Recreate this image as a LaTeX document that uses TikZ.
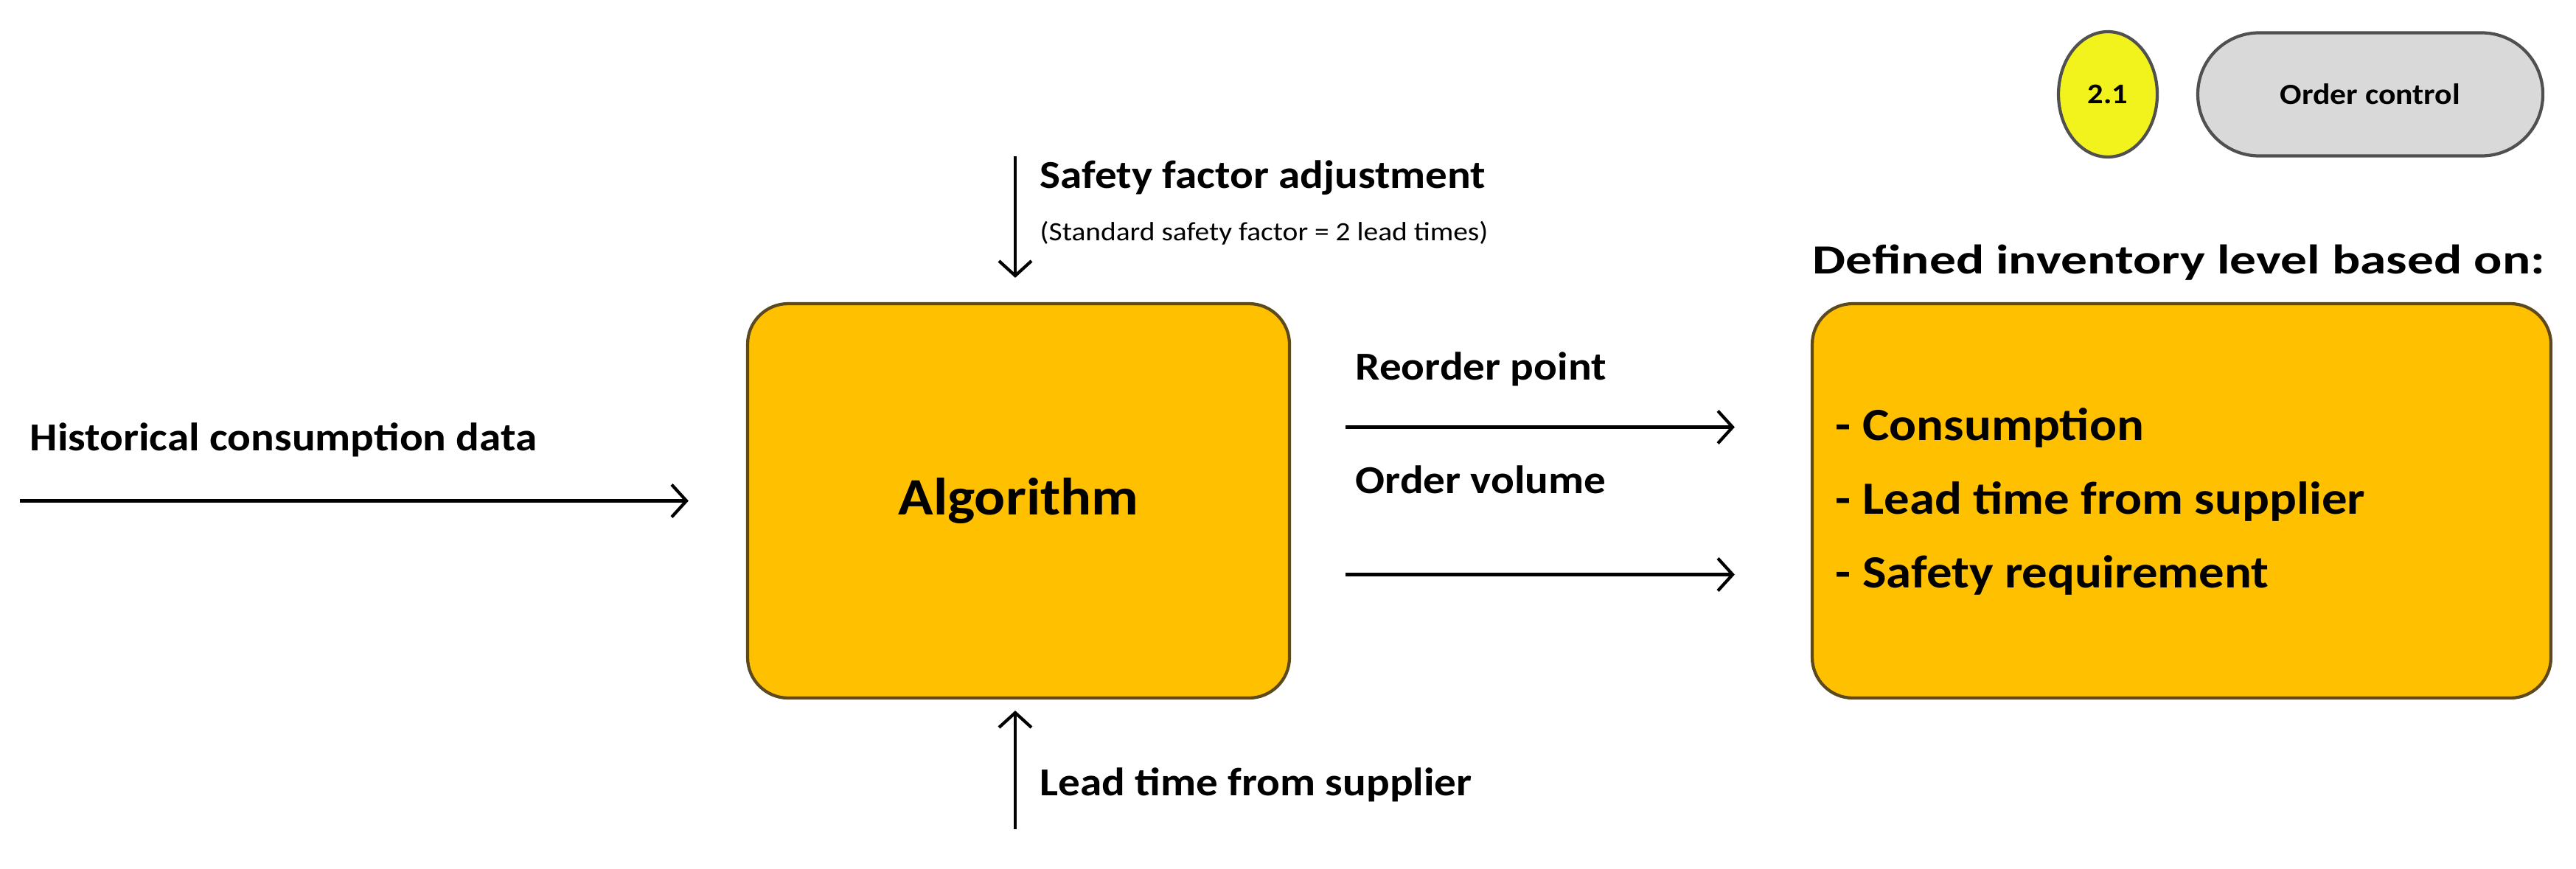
\documentclass[tikz,border=0pt]{standalone}
\usepackage{fontspec}
\setmainfont{Carlito}[FakeStretch=1.1]
\newfontfamily\widefont{Carlito}[FakeStretch=1.27]
\usetikzlibrary{positioning,arrows.meta,shapes.geometric}
\definecolor{boxorange}{HTML}{FFC000}
\definecolor{boxedge}{HTML}{5C4A1E}
\definecolor{tagyellow}{HTML}{F2F21C}
\definecolor{pillgray}{HTML}{D9D9D9}
\definecolor{pilledge}{HTML}{505050}
\tikzset{
process/.style={draw=boxedge, fill=boxorange, line width=1.2pt, rounded corners=0.55cm}, % the two orange boxes
flow/.style={-{Straight Barb[length=0.2cm,width=0.44cm]}, line width=1.2pt}, % the open arrows
lbl/.style={anchor=west, inner sep=0pt, font=\bfseries\fontsize{15.3}{18}\selectfont},
}
\begin{document}
\begin{tikzpicture}
\useasboundingbox (0,0) rectangle (34.94,-11.78);
% tag in the top right corner
\node[ellipse, draw=pilledge, fill=tagyellow, line width=1.2pt, minimum width=1.34cm, minimum height=1.7cm, font=\bfseries\fontsize{11}{13}\selectfont] (tag) at (28.59,-1.28) {2.1};
\node[draw=pilledge, fill=pillgray, line width=1.2pt, rounded corners=0.83cm, minimum width=4.68cm, minimum height=1.67cm, font=\bfseries\fontsize{11.3}{13}\selectfont] (title) at (32.15,-1.28) {Order control};
% boxes
\node[process, minimum width=7.35cm, minimum height=5.35cm, font=\bfseries\fontsize{20.3}{25}\selectfont] (alg) at (13.815,-6.795) {Algorithm};
\node[process, minimum width=10.02cm, minimum height=5.35cm] (inv) at (29.59,-6.795) {};
\node[anchor=west, align=left, inner sep=0pt, font=\bfseries\fontsize{17.8}{28.45}\selectfont] (invlist) at (24.89,-6.80) {- Consumption\\- Lead time from supplier\\- Safety requirement};
% free ends of the arrows
\coordinate (histstart) at (0.27,-6.795);
\coordinate (safetop) at (13.77,-2.12);
\coordinate (leadbot) at (13.77,-11.25);
% labels
\node[lbl] (histlbl) at (0.40,-5.97) {Historical consumption data};
\node[lbl] (safelbl) at (14.10,-2.41) {Safety factor adjustment};
\node[lbl, font=\fontsize{10.2}{12}\selectfont] (stdlbl) at (14.10,-3.16) {(Standard safety factor = 2 lead times)};
\node[lbl] (reordlbl) at (18.38,-5.01) {Reorder point};
\node[lbl] (vollbl) at (18.38,-6.51) {Order volume};
\node[lbl, font=\widefont\bfseries\fontsize{16}{18}\selectfont] (deflbl) at (24.58,-3.56) {Defined inventory level based on:};
\node[lbl] (leadlbl) at (14.10,-10.65) {Lead time from supplier};
% arrows
\draw[flow, shorten >=0.78cm] (histstart) -- (alg.west);
\draw[flow, shorten >=0.33cm] (safetop) -- (safetop |- alg.north);
\draw[flow, shorten >=0.15cm] (leadbot) -- (leadbot |- alg.south);
\draw[flow, shorten <=0.74cm, shorten >=1.03cm] ([yshift=1cm]alg.east) -- ([yshift=1cm]inv.west);
\draw[flow, shorten <=0.74cm, shorten >=1.03cm] ([yshift=-1cm]alg.east) -- ([yshift=-1cm]inv.west);
\end{tikzpicture}
\end{document}
